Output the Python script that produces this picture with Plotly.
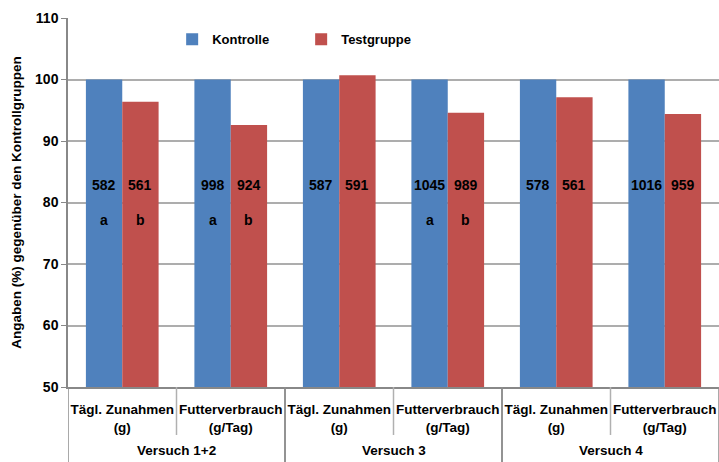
import plotly.graph_objects as go

groups = ["Versuch 1+2", "Versuch 1+2", "Versuch 3", "Versuch 3", "Versuch 4", "Versuch 4"]
metrics = ["Tägl. Zunahmen<br>(g)", "Futterverbrauch<br>(g/Tag)",
           "Tägl. Zunahmen<br>(g)", "Futterverbrauch<br>(g/Tag)",
           "Tägl. Zunahmen<br>(g)", "Futterverbrauch<br>(g/Tag)"]
kontrolle = [100, 100, 100, 100, 100, 100]
testgruppe = [96.4, 92.6, 100.7, 94.6, 97.1, 94.4]
abs_kontrolle = [582, 998, 587, 1045, 578, 1016]
abs_testgruppe = [561, 924, 591, 989, 561, 959]
sig_kontrolle = ["a", "a", "", "a", "", ""]
sig_testgruppe = ["b", "b", "", "b", "", ""]
y_ticks = [50, 60, 70, 80, 90, 100, 110]

FONT = "Liberation Sans"
BLUE = "#4F81BD"
RED = "#C0504D"
idx = list(range(len(metrics)))

fig = go.Figure()
fig.add_trace(go.Bar(x=idx, y=kontrolle, name="Kontrolle",
                     marker=dict(color=BLUE, line=dict(width=0))))
fig.add_trace(go.Bar(x=idx, y=testgruppe, name="Testgruppe",
                     marker=dict(color=RED, line=dict(width=0))))

ann = []
for i in idx:
    for val, dx in ((abs_kontrolle[i], -18), (abs_testgruppe[i], 18)):
        ann.append(dict(x=i, y=82.8, xref="x", yref="y", text=f"<b>{val}</b>",
                        showarrow=False, xshift=dx,
                        font=dict(family=FONT, size=14, color="black")))
    for s, dx in ((sig_kontrolle[i], -18), (sig_testgruppe[i], 18)):
        if s:
            ann.append(dict(x=i, y=77.2, xref="x", yref="y", text=f"<b>{s}</b>",
                            showarrow=False, xshift=dx,
                            font=dict(family=FONT, size=14, color="black")))

# group labels and separators
shapes = []
unique_groups = []
for g in groups:
    if g not in unique_groups:
        unique_groups.append(g)
for g in unique_groups:
    members = [i for i, gg in enumerate(groups) if gg == g]
    center = sum(members) / len(members)
    ann.append(dict(x=center, y=-0.171, xref="x", yref="paper", text=f"<b>{g}</b>",
                    showarrow=False, yanchor="middle",
                    font=dict(family=FONT, size=13.5, color="black")))
    lo, hi = members[0] - 0.5, members[-1] + 0.5
    for b in (lo, hi):
        shapes.append(dict(type="line", xref="x", yref="paper", x0=b, x1=b, y0=0, y1=-0.21,
                           line=dict(color="#8C8C8C", width=1.5)))
    for m in members[:-1]:
        b = m + 0.5
        shapes.append(dict(type="line", xref="x", yref="paper", x0=b, x1=b, y0=0, y1=-0.13,
                           line=dict(color="#B0B0B0", width=1.5)))

fig.update_layout(
    width=719, height=462,
    margin=dict(l=68, r=0, t=18, b=75, autoexpand=False),
    paper_bgcolor="white", plot_bgcolor="white",
    barmode="group", bargap=0.33, bargroupgap=0,
    font=dict(family=FONT, size=13, color="black"),
    showlegend=True,
    legend=dict(orientation="h", x=0.16, y=0.983, xanchor="left", yanchor="top",
                entrywidth=84, bgcolor="rgba(0,0,0,0)",
                font=dict(family=FONT, size=13, color="black", weight="bold")),
    annotations=ann,
    shapes=shapes,
    yaxis=dict(range=[50, 110], tickvals=y_ticks, showgrid=True, gridcolor="#ADADAD",
               gridwidth=1.8, zeroline=False, showline=True, linecolor="#888888",
               linewidth=1.5, ticks="outside", ticklen=5, tickcolor="#888888",
               automargin=False,
               tickfont=dict(family=FONT, size=14, color="black", weight="bold"),
               title=dict(text="<b>Angaben (%) gegenüber den Kontrollgruppen</b>",
                          font=dict(family=FONT, size=13.5, color="black"), standoff=10)),
    xaxis=dict(range=[-0.5, len(metrics) - 0.5], tickvals=idx, ticktext=metrics,
               showline=True, linecolor="#888888", linewidth=1.5,
               ticks="", automargin=False, showgrid=False, zeroline=False,
               ticklabelstandoff=9,
               tickfont=dict(family=FONT, size=13.5, color="black", weight="bold")),
)

fig.write_html(
    "out.html",
    config={"displayModeBar": False},
    post_script="document.body.style.margin='0';document.body.style.overflow='hidden';",
)
